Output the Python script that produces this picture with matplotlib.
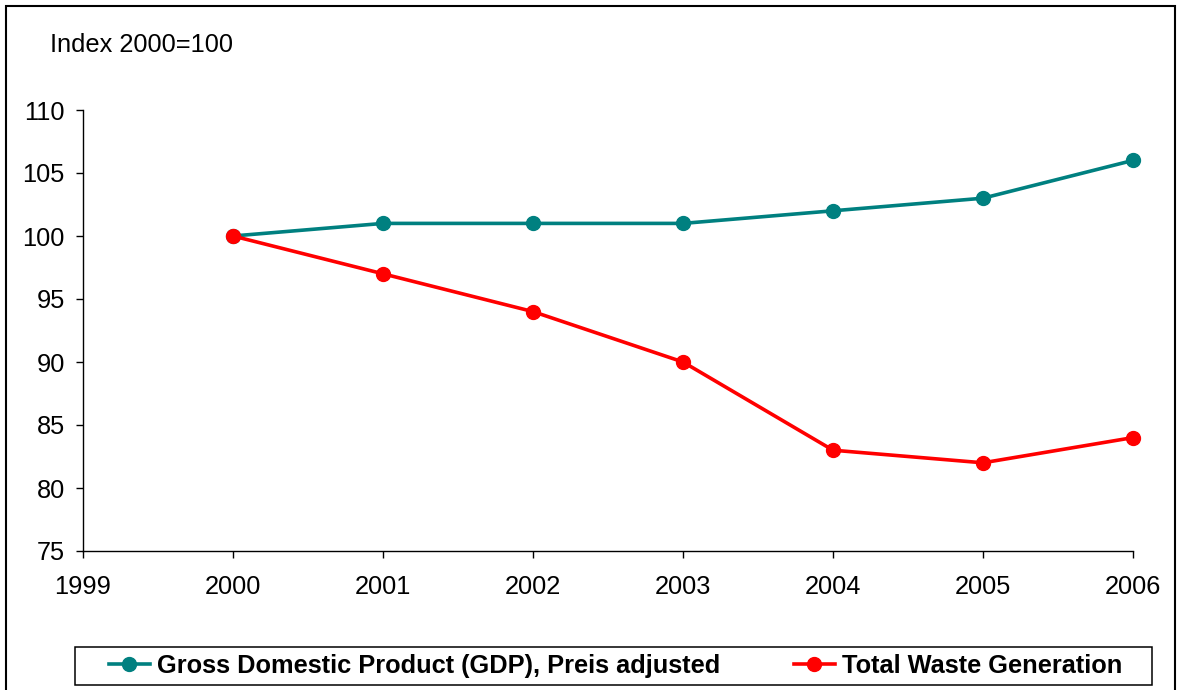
import matplotlib
matplotlib.use('Agg')
import matplotlib.pyplot as plt
from matplotlib.patches import Rectangle

#---------DATA------------
years = [2000, 2001, 2002, 2003, 2004, 2005, 2006]
gdp = [100, 101, 101, 101, 102, 103, 106]
waste = [100, 97, 94, 90, 83, 82, 84]
gdp_label = 'Gross Domestic Product (GDP), Preis adjusted'
waste_label = 'Total Waste Generation'
xticks = [1999, 2000, 2001, 2002, 2003, 2004, 2005, 2006]
yticks = [75, 80, 85, 90, 95, 100, 105, 110]

plt.rcParams['font.family'] = ['Liberation Sans', 'DejaVu Sans']
fs = 18.3
W, H = 1178, 690

fig = plt.figure(figsize=(W/100, H/100), dpi=100)
ax = fig.add_axes([83/W, 1 - 551/H, 1050/W, 441/H])

ax.plot(years, gdp, '-o', color='#008080', lw=2.6, ms=10, label=gdp_label, clip_on=False)
ax.plot(years, waste, '-o', color='#FF0000', lw=2.6, ms=10, label=waste_label, clip_on=False)

ax.set_xlim(1999, 2006)
ax.set_ylim(75, 110)
ax.set_xticks(xticks)
ax.set_yticks(yticks)
ax.tick_params(direction='out', length=5, width=1, labelsize=fs)
ax.tick_params(axis='x', pad=12)
ax.tick_params(axis='y', pad=8)
for s in ['top', 'right']:
    ax.spines[s].set_visible(False)
for s in ['left', 'bottom']:
    ax.spines[s].set_linewidth(1)

fig.text(50/W, 1 - 45/H, 'Index 2000=100', fontsize=fs, va='center', ha='left')

#---------LEGEND------------
leg = fig.legend(loc='center', ncol=2, mode='expand', frameon=False,
                 bbox_to_anchor=(109/W, 1 - 685/H, 1013/W, 38/H),
                 prop={'weight': 'bold', 'size': fs},
                 handlelength=1.61, handletextpad=0.28, borderpad=0,
                 borderaxespad=0)
# legend box drawn separately so the padding matches
fig.patches.append(Rectangle((75/W, 1 - 685/H), 1077/W, 38/H,
                             transform=fig.transFigure, fill=False,
                             edgecolor='black', lw=1.1))

# outer frame
fig.patches.append(Rectangle((6/W, -0.05), 1169/W, 1.05 - 6/H,
                             transform=fig.transFigure, fill=False,
                             edgecolor='black', lw=1.5))

fig.savefig('out.png', dpi=100)
